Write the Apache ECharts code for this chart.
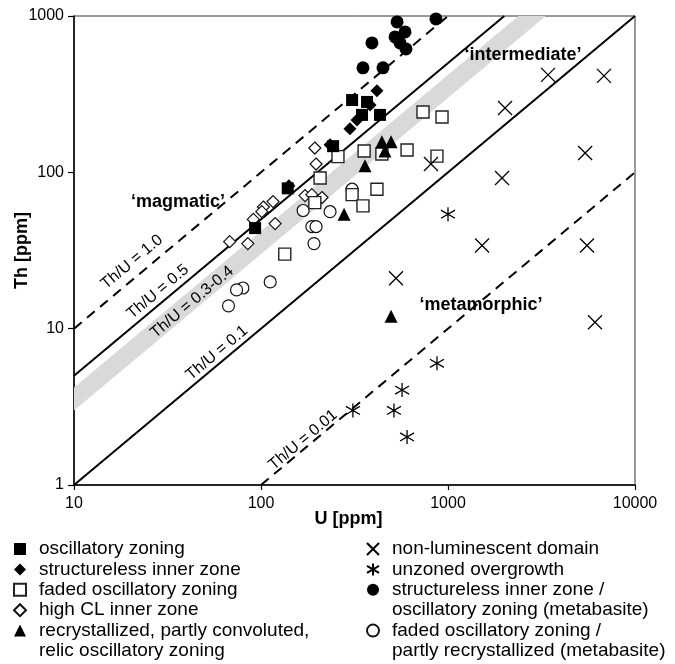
<!DOCTYPE html>
<html>
<head>
<meta charset="utf-8">
<script src="https://cdn.jsdelivr.net/npm/echarts@6/dist/echarts.min.js"></script>
<style>
html, body { margin: 0; padding: 0; background: #fff; }
#chart { width: 675px; height: 664px; }
</style>
</head>
<body>
<div id="chart"></div>
<script>
// [U ppm, Th ppm]
const oscillatoryZoning = [[307, 290], [369, 282], [433, 233], [347, 233], [243, 147], [139, 79], [93, 44]]
const structurelessInner = [[417, 332], [383, 270], [326, 216], [299, 190], [234, 150], [141, 82]]
const fadedOscillatory = [[735, 243], [929, 226], [258, 126], [356, 137], [443, 131], [604, 139], [873, 127],
  [207, 92], [307, 72], [417, 78], [351, 61], [194, 64], [134, 30]]
const highCL = [[194, 143], [197, 113], [172, 71], [187, 72], [212, 69], [116, 65], [103, 60], [101, 56],
  [91, 50], [119, 47], [68, 36], [85, 35]]
const recrystallized = [[443, 157], [496, 157], [460, 137], [360, 110], [278, 54], [496, 12]]
const nonLuminescent = [[3428, 420], [6823, 414], [2018, 258], [5411, 133], [1945, 92], [811, 113],
  [1521, 34], [5537, 34], [527, 21], [6109, 11]]
const unzonedOvergrowth = [[1000, 54], [873, 6.0], [568, 4.05], [310, 3.0], [514, 3.0], [604, 2.03]]
const metabasiteStructureless = [[534, 917], [862, 958], [589, 791], [521, 735], [392, 673], [554, 673],
  [596, 616], [351, 466], [449, 466]]
const metabasiteFaded = [[307, 78], [168, 57], [234, 56], [187, 45], [197, 45], [192, 35], [112, 19.9],
  [80, 18.2], [74, 17.7], [67, 14.0]]

const xTicks = [10, 100, 1000, 10000]
const yTicks = [1, 10, 100, 1000]
const ratioLines = [1.0, 0.5, 0.1, 0.01]
const bandRatios = [0.3, 0.42]
const lineLabels = ["Th/U = 1.0", "Th/U = 0.5", "Th/U = 0.3-0.4", "Th/U = 0.1", "Th/U = 0.01"]
const lineLabelAnchors = [[20.4, 26.7], [28.1, 17.2], [42.8, 14.8], [58.2, 7.0], [168, 1.94]]
const regionLabels = ["‘magmatic’", "‘intermediate’", "‘metamorphic’"]
const regionLabelAnchors = [[36, 65], [2520, 564], [1500, 14.2]]

const font = "'Liberation Sans', Arial, sans-serif"
const xMin = xTicks[0], xMax = xTicks[xTicks.length - 1]
const yMin = yTicks[0], yMax = yTicks[yTicks.length - 1]

const chart = echarts.init(document.getElementById("chart"))

const crossPath = "path://M0,0L10,10M10,0L0,10"
const asteriskPath = "path://M0,2.5L12,9.5M0,9.5L12,2.5M6,0L6,12"

const pointSeries = (name, data, symbol, size, fill, stroke, width) => ({
  type: "scatter",
  name: name,
  data: data,
  symbol: symbol,
  symbolSize: size,
  itemStyle: { color: fill, borderColor: stroke, borderWidth: width, opacity: 1 },
  emphasis: { disabled: true },
  z: 5
})

// clip each ratio line to the plot box
const ratioSeries = ratioLines.map((r) => {
  const u1 = Math.max(xMin, yMin / r)
  const u2 = Math.min(xMax, yMax / r)
  return {
    type: "line",
    data: [[u1, u1 * r], [u2, u2 * r]],
    showSymbol: false,
    silent: true,
    lineStyle: { color: "#000", width: 2, type: r === 1 || r === 0.01 ? [10, 7] : "solid" },
    z: 3
  }
})

const bandPolygon = [
  [xMin, xMin * bandRatios[0]],
  [yMax / bandRatios[0], yMax],
  [yMax / bandRatios[1], yMax],
  [xMin, xMin * bandRatios[1]]
]

const emptyItem = { color: "rgba(0,0,0,0)", opacity: 1 }

const legendBase = {
  orient: "vertical", top: 539, padding: 0,
  itemWidth: 12, itemHeight: 12, itemGap: 0.4, selectedMode: false,
  textStyle: { fontSize: 19, lineHeight: 20, color: "#000", fontFamily: font, padding: [0, 0, 0, 8] }
}

const options = {
  animation: false,
  backgroundColor: "#fff",
  textStyle: { fontFamily: font },
  grid: {
    left: 74, right: 40, top: 16, bottom: 179,
    show: true, borderColor: "#333", borderWidth: 1,
    outerBoundsMode: "none"
  },
  xAxis: {
    type: "log", logBase: 10, min: xMin, max: xMax,
    name: "U [ppm]", nameLocation: "middle", nameGap: 25, nameMoveOverlap: false,
    nameTextStyle: { fontSize: 18, fontWeight: "bold", color: "#000", fontFamily: font, padding: [0, 12, 0, 0] },
    axisLine: { show: true, lineStyle: { color: "#000", width: 1.5 } },
    axisTick: { show: true, length: 5, lineStyle: { color: "#000", width: 1.2 } },
    axisLabel: { fontSize: 16, color: "#000", margin: 11, fontFamily: font, formatter: (v) => String(Math.round(v)) },
    splitLine: { show: false }
  },
  yAxis: {
    type: "log", logBase: 10, min: yMin, max: yMax,
    name: "Th [ppm]", nameLocation: "middle", nameGap: 43, nameRotate: 90, nameMoveOverlap: false,
    nameTextStyle: { fontSize: 18, fontWeight: "bold", color: "#000", fontFamily: font },
    axisLine: { show: true, lineStyle: { color: "#000", width: 1.5 } },
    axisTick: { show: true, length: 6, lineStyle: { color: "#000", width: 1.2 } },
    axisLabel: { fontSize: 16, color: "#000", margin: 10, fontFamily: font, formatter: (v) => String(Math.round(v)) },
    splitLine: { show: false }
  },
  legend: [
    Object.assign({}, legendBase, {
      left: 13,
      data: [
        "oscillatory zoning",
        "structureless inner zone",
        "faded oscillatory zoning",
        "high CL inner zone",
        "recrystallized, partly convoluted,",
        { name: "relic oscillatory zoning", icon: "none" }
      ]
    }),
    Object.assign({}, legendBase, {
      left: 366,
      data: [
        "non-luminescent domain",
        "unzoned overgrowth",
        "structureless inner zone /",
        { name: "oscillatory zoning (metabasite)", icon: "none" },
        "faded oscillatory zoning /",
        { name: "partly recrystallized (metabasite)", icon: "none" }
      ]
    })
  ],
  series: [
    {
      type: "custom",
      silent: true,
      clip: true,
      z: 1,
      data: [bandPolygon[0]],
      renderItem: (params, api) => ({
        type: "polygon",
        shape: { points: bandPolygon.map((p) => api.coord(p)) },
        style: { fill: "#d9d9d9" }
      })
    },
    ...ratioSeries,
    pointSeries("faded oscillatory zoning /", metabasiteFaded, "circle", 12, "#fff", "#111", 1.2),
    pointSeries("high CL inner zone", highCL, "diamond", 12, "#fff", "#111", 1.2),
    pointSeries("faded oscillatory zoning", fadedOscillatory, "rect", 12, "#fff", "#222", 1.4),
    pointSeries("non-luminescent domain", nonLuminescent, crossPath, 14, "rgba(0,0,0,0)", "#000", 1.3),
    pointSeries("unzoned overgrowth", unzonedOvergrowth, asteriskPath, 14, "rgba(0,0,0,0)", "#000", 1.3),
    pointSeries("recrystallized, partly convoluted,", recrystallized, "triangle", 13, "#000", "#000", 0),
    pointSeries("structureless inner zone", structurelessInner, "diamond", 13, "#000", "#000", 0),
    pointSeries("oscillatory zoning", oscillatoryZoning, "rect", 12, "#000", "#000", 0),
    pointSeries("structureless inner zone /", metabasiteStructureless, "circle", 13, "#000", "#000", 0),
    // continuation lines of two-line legend entries
    { type: "scatter", name: "relic oscillatory zoning", data: [], itemStyle: emptyItem },
    { type: "scatter", name: "oscillatory zoning (metabasite)", data: [], itemStyle: emptyItem },
    { type: "scatter", name: "partly recrystallized (metabasite)", data: [], itemStyle: emptyItem },
    {
      type: "scatter",
      silent: true,
      symbolSize: 1,
      itemStyle: emptyItem,
      z: 4,
      data: lineLabelAnchors.map((p, i) => ({ value: p, name: lineLabels[i] })),
      label: {
        show: true, position: "inside", rotate: 40, formatter: "{b}",
        fontSize: 16, color: "#000", fontFamily: font, textBorderWidth: 0
      }
    },
    {
      type: "scatter",
      silent: true,
      symbolSize: 1,
      itemStyle: emptyItem,
      z: 6,
      data: regionLabelAnchors.map((p, i) => ({ value: p, name: regionLabels[i] })),
      label: {
        show: true, position: "inside", formatter: "{b}",
        fontSize: 18, fontWeight: "bold", color: "#000", fontFamily: font, textBorderWidth: 0
      }
    }
  ]
}
chart.setOption(options)
</script>
</body>
</html>
